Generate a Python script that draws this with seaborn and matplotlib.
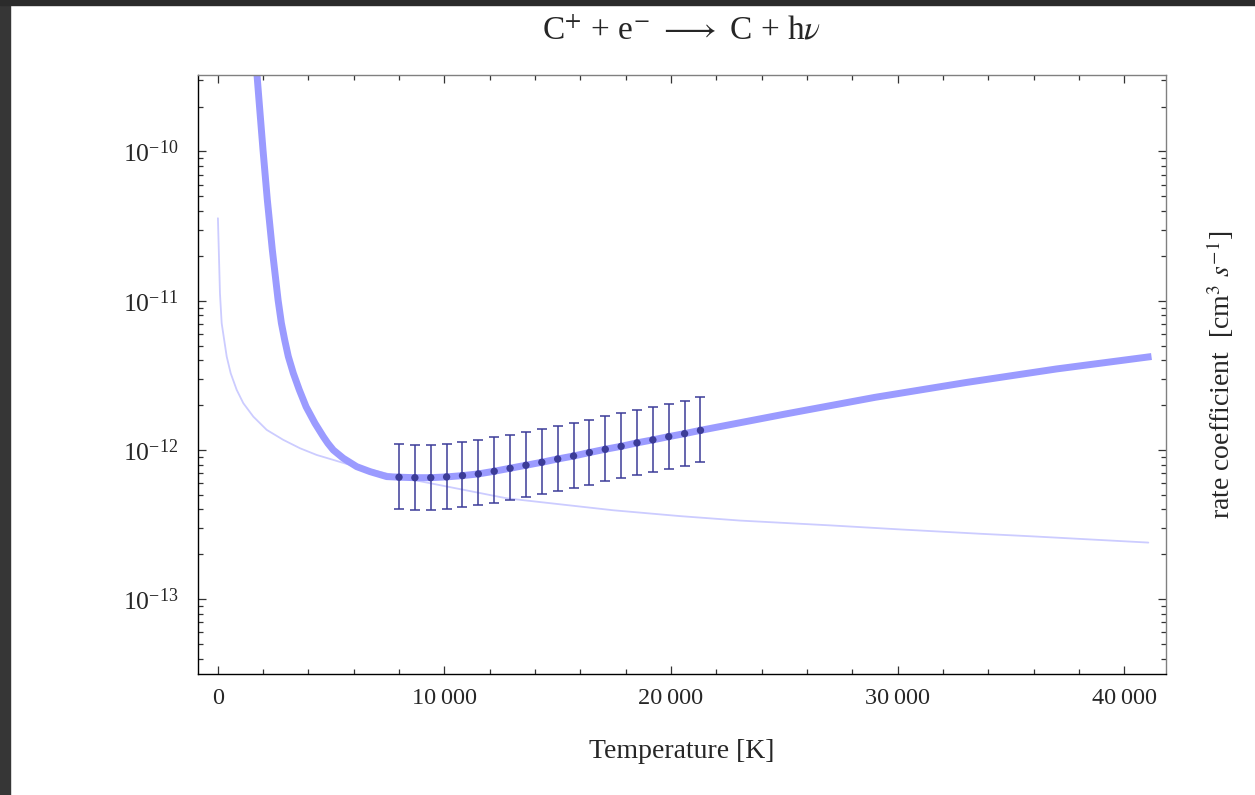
import pandas as pd
import matplotlib
matplotlib.use("Agg")
import matplotlib.pyplot as plt
from matplotlib.patches import Rectangle
from matplotlib.ticker import (MultipleLocator, LogLocator, FixedLocator, FuncFormatter,
                               LogFormatterSciNotation, NullFormatter)
import seaborn as sns

# --- valores ---
# curva ajustada (linea gruesa)
temp_fit = [1700, 1822, 2000, 2190, 2410, 2665, 2810, 2956, 3116, 3336, 3600, 3900, 4293,
            4659, 4860, 5101, 5542, 6133, 6720, 7456, 8000, 8700, 9400, 10100, 10800, 11500,
            12200, 12900, 13600, 14300, 15000, 15700, 16400, 17100, 17800, 18500, 19200,
            19900, 20600, 21300, 25000, 29000, 33000, 37000, 41200]
rate_fit = [3.80e-10, 2.21e-10, 1.02e-10, 4.73e-11, 2.19e-11, 1.01e-11, 7.08e-12, 5.46e-12,
            4.23e-12, 3.27e-12, 2.53e-12, 1.95e-12, 1.51e-12, 1.23e-12, 1.11e-12, 1.00e-12,
            8.81e-13, 7.74e-13, 7.17e-13, 6.64e-13, 6.58e-13, 6.53e-13, 6.53e-13, 6.61e-13,
            6.74e-13, 6.92e-13, 7.21e-13, 7.55e-13, 7.91e-13, 8.28e-13, 8.71e-13, 9.12e-13,
            9.62e-13, 1.012e-12, 1.059e-12, 1.117e-12, 1.170e-12, 1.230e-12, 1.288e-12,
            1.355e-12, 1.738e-12, 2.254e-12, 2.831e-12, 3.491e-12, 4.23e-12]

# curva fina
temp_thin = [10, 100, 176, 397, 573, 838, 1130, 1571, 2162, 2894, 3631, 4368, 5100, 5692,
             8630, 12751, 17455, 20397, 23044, 27016, 30104, 33634, 35985, 41060]
rate_thin = [3.57e-11, 1.12e-11, 7.06e-12, 4.23e-12, 3.27e-12, 2.53e-12, 2.06e-12, 1.675e-12,
             1.365e-12, 1.17e-12, 1.028e-12, 9.27e-13, 8.59e-13, 8.07e-13, 6.31e-13, 4.75e-13,
             3.95e-13, 3.61e-13, 3.37e-13, 3.13e-13, 2.94e-13, 2.75e-13, 2.64e-13, 2.40e-13]

# puntos con barras de error
temp_data = [8000, 8700, 9400, 10100, 10800, 11500, 12200, 12900, 13600, 14300, 15000,
             15700, 16400, 17100, 17800, 18500, 19200, 19900, 20600, 21300]
rate_data = [6.58e-13, 6.53e-13, 6.53e-13, 6.61e-13, 6.74e-13, 6.92e-13, 7.21e-13, 7.55e-13,
             7.91e-13, 8.28e-13, 8.71e-13, 9.12e-13, 9.62e-13, 1.012e-12, 1.059e-12,
             1.117e-12, 1.170e-12, 1.230e-12, 1.288e-12, 1.355e-12]
rate_hi = [1.093e-12, 1.087e-12, 1.087e-12, 1.104e-12, 1.133e-12, 1.174e-12, 1.217e-12,
           1.268e-12, 1.321e-12, 1.384e-12, 1.450e-12, 1.527e-12, 1.599e-12, 1.683e-12,
           1.763e-12, 1.856e-12, 1.944e-12, 2.046e-12, 2.143e-12, 2.267e-12]
rate_lo = [4.011e-13, 3.970e-13, 3.970e-13, 4.052e-13, 4.158e-13, 4.288e-13, 4.445e-13,
           4.656e-13, 4.851e-13, 5.080e-13, 5.321e-13, 5.601e-13, 5.836e-13, 6.176e-13,
           6.469e-13, 6.809e-13, 7.132e-13, 7.508e-13, 7.863e-13, 8.279e-13]

y_ticks = [1e-13, 1e-12, 1e-11, 1e-10]

df_fit = pd.DataFrame({"T": temp_fit, "rate": rate_fit})
df_thin = pd.DataFrame({"T": temp_thin, "rate": rate_thin})
df_data = pd.DataFrame({"T": temp_data, "rate": rate_data, "lo": rate_lo, "hi": rate_hi})

# --- estilo ---
sns.set_theme(style="ticks")
plt.rcParams["font.family"] = ["Liberation Serif", "DejaVu Serif"]
plt.rcParams["mathtext.fontset"] = "stix"

fig = plt.figure(figsize=(12.55, 7.95), dpi=100)
ax = fig.add_axes([198 / 1255, 121 / 795, 968 / 1255, 599 / 795])

sns.lineplot(data=df_thin, x="T", y="rate", ax=ax, color="#ccccff", lw=1.3,
             sort=False, estimator=None)
sns.lineplot(data=df_fit, x="T", y="rate", ax=ax, color="#9b9bff", lw=5.0,
             sort=False, estimator=None, solid_capstyle="butt", solid_joinstyle="round")
ax.errorbar(df_data["T"], df_data["rate"],
            yerr=[df_data["rate"] - df_data["lo"], df_data["hi"] - df_data["rate"]],
            fmt="none", ecolor="#3c3c98", elinewidth=1.1, capsize=3.6, capthick=1.1, zorder=4)
sns.scatterplot(data=df_data, x="T", y="rate", ax=ax, color="#3c3c98", s=28,
                edgecolor="none", zorder=5)

ax.set_yscale("log")
ax.set_xlim(-869, 41840)
ax.set_ylim(3.162e-14, 3.251e-10)

ax.xaxis.set_major_locator(MultipleLocator(10000))
ax.xaxis.set_minor_locator(MultipleLocator(2000))
ax.xaxis.set_major_formatter(FuncFormatter(lambda v, p: f"{v:,.0f}".replace(",", "\u2009")))
ax.yaxis.set_major_locator(FixedLocator(y_ticks))
ax.yaxis.set_major_formatter(LogFormatterSciNotation())
ax.yaxis.set_minor_locator(LogLocator(base=10, subs=range(2, 10)))
ax.yaxis.set_minor_formatter(NullFormatter())

ax.tick_params(which="both", direction="in", top=True, right=True, color="#333333",
               width=0.9)
ax.tick_params(which="major", length=6)
ax.tick_params(which="minor", length=3.5)
ax.tick_params(axis="x", pad=10, labelsize=17.5)
ax.tick_params(axis="y", pad=14, labelsize=18.5)

for side in ["left", "bottom"]:
    ax.spines[side].set_color("black")
    ax.spines[side].set_linewidth(1.0)
for side in ["top", "right"]:
    ax.spines[side].set_color("#808080")
    ax.spines[side].set_linewidth(1.0)

ax.set_title(r"C$^{+}$ + e$^{-}$ $\longrightarrow$ C + h$\nu$", fontsize=24, pad=26)
ax.set_xlabel("Temperature [K]", fontsize=20, labelpad=22)
ax.yaxis.set_label_position("right")
ax.set_ylabel(r"rate coefficient  [cm$^{3}$ $s^{-1}$]", fontsize=20, labelpad=28)

# marco oscuro de la captura
fig.patches.append(Rectangle((0, 0), 10 / 1255, 1, transform=fig.transFigure,
                             color="#363636", zorder=0))
fig.patches.append(Rectangle((0, 1 - 5 / 795), 1, 5 / 795, transform=fig.transFigure,
                             color="#2b2b2b", zorder=0))

plt.savefig("out.png", dpi=100)
